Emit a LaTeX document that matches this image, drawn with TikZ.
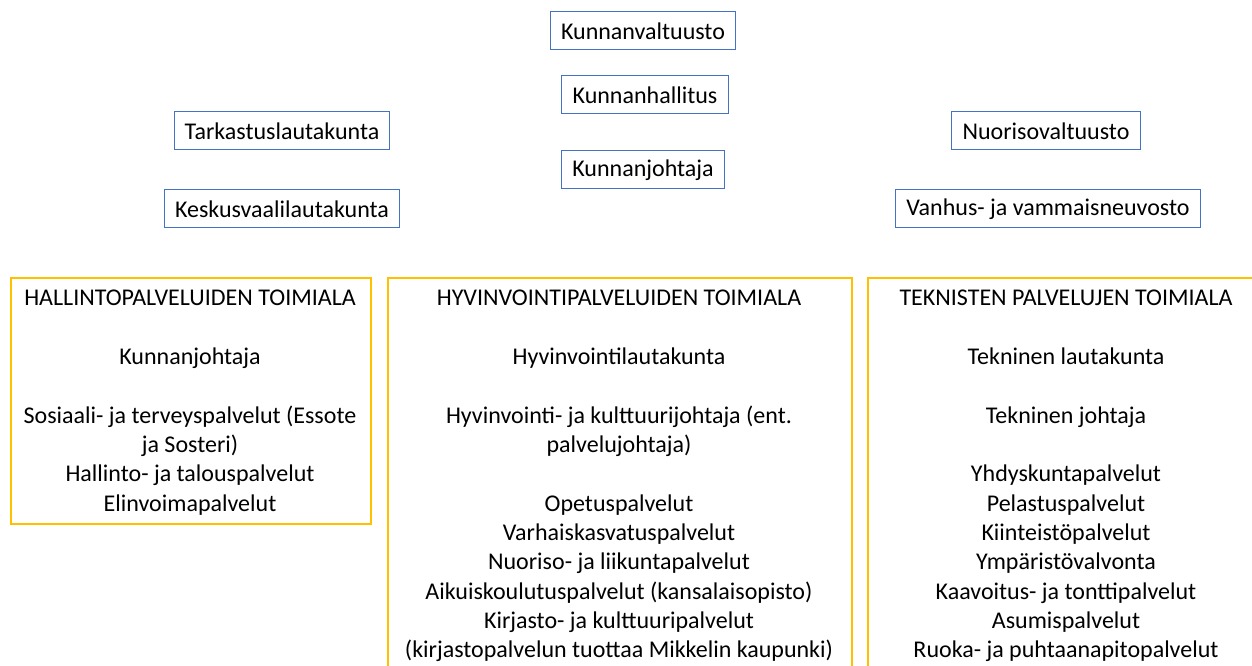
\documentclass[tikz,border=0pt]{standalone}
\usepackage{fontspec}
\setmainfont{Carlito}
\usepackage{xcolor}
\usepackage{tikz}

\definecolor{organblue}{HTML}{4472C4}
\definecolor{fieldgold}{HTML}{FFC000}

\tikzset{
  organ/.style={draw=organblue, line width=0.75pt, fill=white, minimum height=28.5pt, inner xsep=8pt, font=\fontsize{18}{22}\selectfont},
  field/.style={draw=fieldgold, line width=1.2pt, anchor=north west, inner sep=0pt},
  fieldtext/.style={anchor=north, align=center, inner sep=0pt, font=\fontsize{18}{22}\selectfont},
}

\begin{document}
\begin{tikzpicture}[x=0.75pt, y=-0.75pt]
      \useasboundingbox (0,0) rectangle (1252,666);
      \clip (0,0) rectangle (1252,666);

      % Council, board and manager
      \node[organ] (valtuusto) at (643,31) {Kunnanvaltuusto};
      \node[organ] (hallitus) at (645,95) {Kunnanhallitus};
      \node[organ] (johtaja) at (643,170) {Kunnanjohtaja};

      % Side bodies
      \node[organ] (tarkastus) at (282,131) {Tarkastuslautakunta};
      \node[organ] (keskusvaali) at (282,209) {Keskusvaalilautakunta};
      \node[organ] (nuoriso) at (1046,131) {Nuorisovaltuusto};
      \node[organ] (vanhus) at (1048,209) {Vanhus- ja vammaisneuvosto};

      % Sector frames
      \node[field, minimum width=270pt, minimum height=184.5pt] (hallinto) at (10,277) {};
      \node[field, minimum width=348pt, minimum height=320pt] (hyvinvointi) at (387,277) {};
      \node[field, minimum width=300pt, minimum height=320pt] (tekninen) at (867,277) {};

      % Sector contents
      \node[fieldtext] (hallintoteksti) at (190,290) {
          HALLINTOPALVELUIDEN TOIMIALA\\[22pt]
          Kunnanjohtaja\\[22pt]
          Sosiaali- ja terveyspalvelut (Essote\\
          ja Sosteri)\\
          Hallinto- ja talouspalvelut\\
          Elinvoimapalvelut
      };
      \node[fieldtext] (hyvinvointiteksti) at (619,290) {
          HYVINVOINTIPALVELUIDEN TOIMIALA\\[22pt]
          Hyvinvointilautakunta\\[22pt]
          Hyvinvointi- ja kulttuurijohtaja (ent.\\
          palvelujohtaja)\\[22pt]
          Opetuspalvelut\\
          Varhaiskasvatuspalvelut\\
          Nuoriso- ja liikuntapalvelut\\
          Aikuiskoulutuspalvelut (kansalaisopisto)\\
          Kirjasto- ja kulttuuripalvelut\\
          (kirjastopalvelun tuottaa Mikkelin kaupunki)
      };
      \node[fieldtext] (teknineteksti) at (1066,290) {
          TEKNISTEN PALVELUJEN TOIMIALA\\[22pt]
          Tekninen lautakunta\\[22pt]
          Tekninen johtaja\\[22pt]
          Yhdyskuntapalvelut\\
          Pelastuspalvelut\\
          Kiinteistöpalvelut\\
          Ympäristövalvonta\\
          Kaavoitus- ja tonttipalvelut\\
          Asumispalvelut\\
          Ruoka- ja puhtaanapitopalvelut
      };
\end{tikzpicture}
\end{document}
